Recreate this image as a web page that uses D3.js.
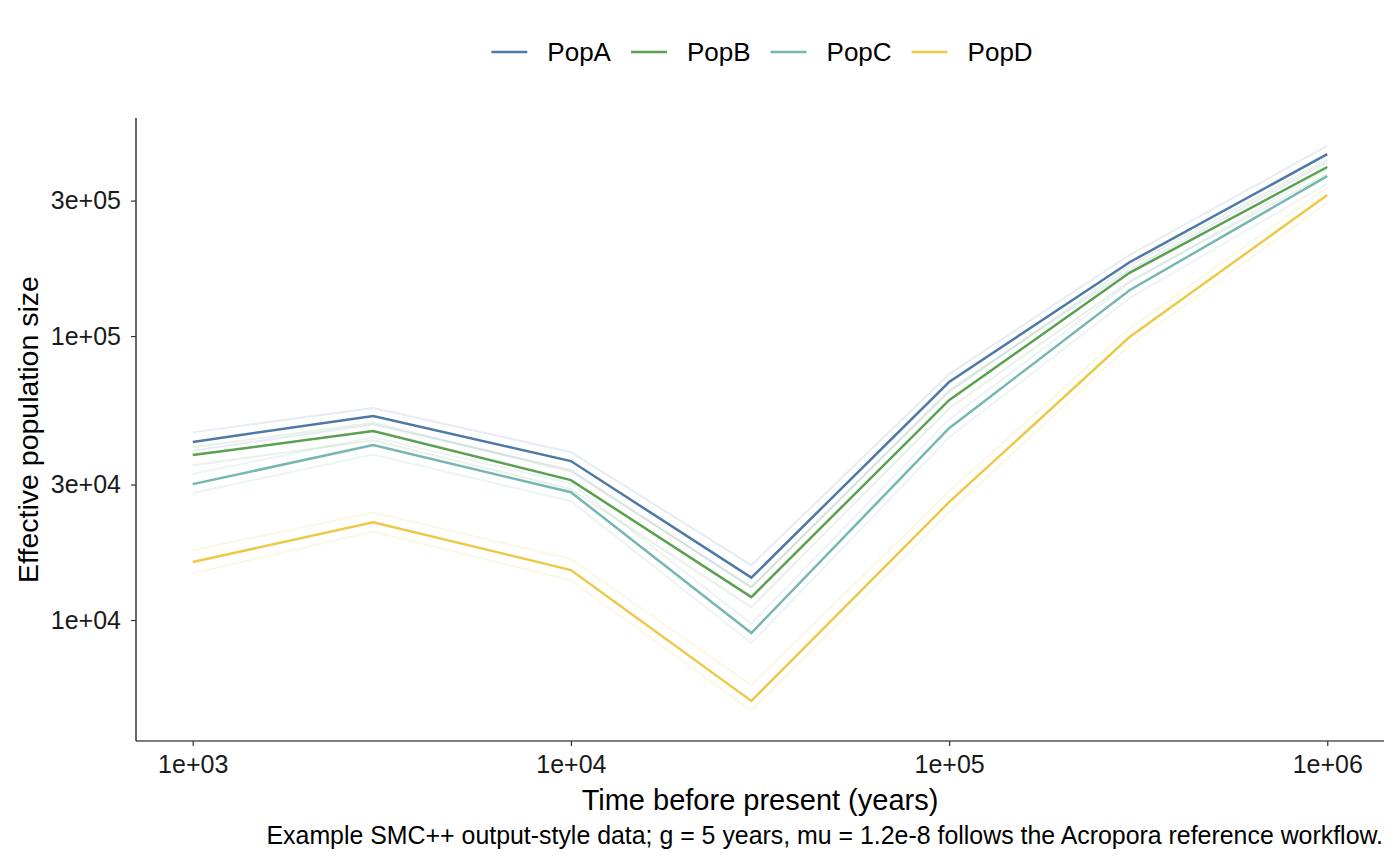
<!DOCTYPE html>
<html>
<head>
<meta charset="utf-8">
<script src="https://cdn.jsdelivr.net/npm/d3@7"></script>
<style>
  body { margin: 0; background: #fff; }
  svg { font-family: "Liberation Sans", Arial, sans-serif; }
</style>
</head>
<body>
<div id="chart"></div>
<script>
// time points (years before present)
const times = [1e3, 3e3, 1e4, 3e4, 1e5, 3e5, 1e6];
const popNames = ['PopA', 'PopB', 'PopC', 'PopD'];
const popColors = ['#4E79A7', '#59A14F', '#76B7B2', '#EDC948'];

// estimated Ne per population
const popA = [42400, 52300, 36300, 14100, 68900, 182000, 437000];
const popB = [38100, 46300, 31100, 12050, 59500, 167000, 394000];
const popC = [30100, 41300, 28200, 9000, 47400, 145000, 366000];
const popD = [16000, 22100, 15000, 5190, 26000, 99200, 314000];

// faint replicate lines above / below
const popAHi = [45800, 55800, 39000, 15600, 73500, 193000, 468000];
const popALo = [39500, 48800, 33800, 13000, 64500, 171000, 410000];
const popBHi = [40600, 49500, 33300, 13100, 63500, 177000, 418000];
const popBLo = [35100, 43000, 28900, 11100, 55600, 156000, 372000];
const popCHi = [32700, 44000, 30300, 9700, 50800, 154000, 388000];
const popCLo = [28000, 38300, 26200, 8300, 44000, 136000, 344000];
const popDHi = [17600, 23900, 16400, 5900, 28400, 106000, 334000];
const popDLo = [14600, 20500, 13800, 4800, 24000, 93000, 295000];

const xTicks = [1e3, 1e4, 1e5, 1e6];
const yTicks = [1e4, 3e4, 1e5, 3e5];
const xTickLabels = ['1e+03', '1e+04', '1e+05', '1e+06'];
const yTickLabels = ['1e+04', '3e+04', '1e+05', '3e+05'];

const mainSeries = [popA, popB, popC, popD];
const hiSeries = [popAHi, popBHi, popCHi, popDHi];
const loSeries = [popALo, popBLo, popCLo, popDLo];

const width = 1400, height = 865;
const panel = {left: 136, right: 1384, top: 118, bottom: 741};

const svg = d3.select('#chart').append('svg')
  .attr('width', width)
  .attr('height', height);

// log scales with ggplot-like 5% expansion
const x = d3.scaleLog()
  .domain([Math.pow(10, 2.85), Math.pow(10, 6.15)])
  .range([panel.left, panel.right]);
const y = d3.scaleLog()
  .domain([Math.pow(10, 3.574), Math.pow(10, 5.768)])
  .range([panel.bottom, panel.top]);

const line = d3.line()
  .x((d, i) => x(times[i]))
  .y(d => y(d));

// faint replicate lines first
const faint = svg.append('g');
popNames.forEach((name, k) => {
  [hiSeries[k], loSeries[k]].forEach(s => {
    faint.append('path')
      .attr('d', line(s))
      .attr('fill', 'none')
      .attr('stroke', popColors[k])
      .attr('stroke-opacity', 0.14)
      .attr('stroke-width', 2);
  });
});

// main lines
svg.append('g').selectAll('path').data(mainSeries).enter()
  .append('path')
  .attr('d', d => line(d))
  .attr('fill', 'none')
  .attr('stroke', (d, i) => popColors[i])
  .attr('stroke-width', 2.5);

// x axis
const xAxis = svg.append('g')
  .attr('transform', `translate(0,${panel.bottom})`)
  .call(d3.axisBottom(x).tickValues(xTicks).tickSize(5).tickSizeOuter(0)
    .tickFormat((d, i) => xTickLabels[i]));
xAxis.select('.domain').attr('stroke', '#000').attr('stroke-width', 1.2)
  .attr('d', `M${panel.left},0H${panel.right}`);
xAxis.selectAll('.tick line').attr('stroke', '#333').attr('stroke-width', 1.2);
xAxis.selectAll('.tick text')
  .attr('fill', '#1a1a1a')
  .attr('dy', '0.71em')
  .attr('y', 14)
  .style('font-size', '25px');

// y axis
const yAxis = svg.append('g')
  .attr('transform', `translate(${panel.left},0)`)
  .call(d3.axisLeft(y).tickValues(yTicks).tickSize(5).tickSizeOuter(0)
    .tickFormat((d, i) => yTickLabels[i]));
yAxis.select('.domain').attr('stroke', '#000').attr('stroke-width', 1.2)
  .attr('d', `M0,${panel.top}V${panel.bottom}`);
yAxis.selectAll('.tick line').attr('stroke', '#333').attr('stroke-width', 1.2);
yAxis.selectAll('.tick text')
  .attr('fill', '#1a1a1a')
  .attr('x', -15)
  .style('font-size', '25px');

// axis titles
svg.append('text')
  .attr('x', (panel.left + panel.right) / 2)
  .attr('y', 810)
  .attr('text-anchor', 'middle')
  .style('font-size', '29px')
  .text('Time before present (years)');
svg.append('text')
  .attr('transform', `translate(38,${(panel.top + panel.bottom) / 2}) rotate(-90)`)
  .attr('text-anchor', 'middle')
  .style('font-size', '28.5px')
  .text('Effective population size');

// caption
svg.append('text')
  .attr('x', 1383)
  .attr('y', 844)
  .attr('text-anchor', 'end')
  .style('font-size', '24.9px')
  .text('Example SMC++ output-style data; g = 5 years, mu = 1.2e-8 follows the Acropora reference workflow.');

// legend on top
const legend = svg.append('g');
let lx = 0;
popNames.forEach((name, i) => {
  const item = legend.append('g').attr('transform', `translate(${lx},0)`);
  item.append('line')
    .attr('x1', 0).attr('x2', 36)
    .attr('y1', 0).attr('y2', 0)
    .attr('stroke', popColors[i])
    .attr('stroke-width', 2.5);
  const t = item.append('text')
    .attr('x', 56)
    .attr('dy', '0.35em')
    .style('font-size', '26px')
    .text(name);
  lx += 56 + t.node().getComputedTextLength() + 20;
});
lx -= 20;
legend.attr('transform', `translate(${762 - lx / 2},52)`);
</script>
</body>
</html>
